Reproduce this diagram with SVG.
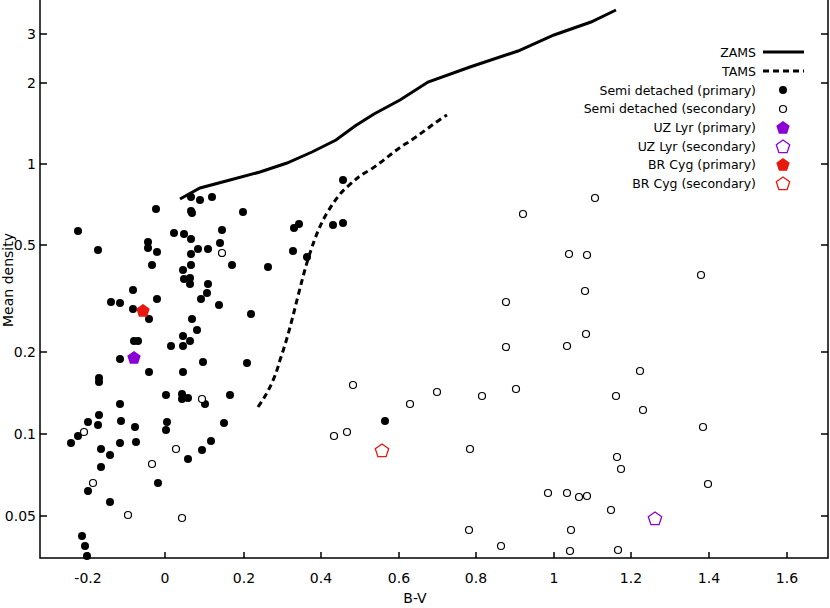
<svg xmlns="http://www.w3.org/2000/svg" width="830" height="608" viewBox="0 0 830 608">
<style>
text{font-family:"DejaVu Sans","Liberation Sans",sans-serif;font-size:12.5px;fill:#000}
.t{font-size:14px}
.f{fill:#000}
.o{fill:#fff;stroke:#000;stroke-width:1.2}
.ax{stroke:#000;stroke-width:1.5;fill:none}
</style>
<defs>
<circle id="f" r="4" class="f"/>
<circle id="o" r="3.5" class="o"/>
<polygon id="pg" points="0,-7 6.7,-2.2 4.1,5.7 -4.1,5.7 -6.7,-2.2"/>
</defs>
<rect width="830" height="608" fill="#fff"/>
<g id="axes" class="ax">
<path d="M40,0V558H828V0"/>
<path d="M88,558v-6M165,558v-6M244,558v-6M321,558v-6M399,558v-6M476,558v-6M554,558v-6M631,558v-6M709,558v-6M787,558v-6"/>
<path d="M40,34h7M40,83h7M40,164h7M40,245h7M40,352h7M40,434h7M40,516h7M828,34h-7M828,83h-7M828,164h-7M828,245h-7M828,352h-7M828,434h-7M828,516h-7"/>
</g>
<g id="ticklabels">
<text class="t" x="88" y="583" text-anchor="middle">-0.2</text>
<text class="t" x="165" y="583" text-anchor="middle">0</text>
<text class="t" x="244" y="583" text-anchor="middle">0.2</text>
<text class="t" x="321" y="583" text-anchor="middle">0.4</text>
<text class="t" x="399" y="583" text-anchor="middle">0.6</text>
<text class="t" x="476" y="583" text-anchor="middle">0.8</text>
<text class="t" x="554" y="583" text-anchor="middle">1</text>
<text class="t" x="631" y="583" text-anchor="middle">1.2</text>
<text class="t" x="709" y="583" text-anchor="middle">1.4</text>
<text class="t" x="787" y="583" text-anchor="middle">1.6</text>
<text class="t" x="36" y="39" text-anchor="end">3</text>
<text class="t" x="36" y="88" text-anchor="end">2</text>
<text class="t" x="36" y="169" text-anchor="end">1</text>
<text class="t" x="36" y="250" text-anchor="end">0.5</text>
<text class="t" x="36" y="357" text-anchor="end">0.2</text>
<text class="t" x="36" y="439" text-anchor="end">0.1</text>
<text class="t" x="36" y="521" text-anchor="end">0.05</text>
<text class="t" x="415" y="603" text-anchor="middle">B-V</text>
<text class="t" transform="translate(13,280) rotate(-90)" text-anchor="middle">Mean density</text>
</g>
<g id="connectors">
<path id="zams" d="M180,199 L200,188 L230,180 L260,172 L287,163 L312,152 L336,140 L355,126 L374,114 L400,100 L428,82 L470,67 L518,51 L554,35 L591,22 L616,10" fill="none" stroke="#000" stroke-width="3"/>
<path id="tams" d="M258,407 C270,390 276,375 280,360 C287,340 292,320 297,300 C302,280 306,265 310,253 C316,235 320,225 327,213 C335,200 340,193 347,187 C355,180 360,175 370,170 C385,160 395,150 407,143 C420,135 435,122 447,115" fill="none" stroke="#000" stroke-width="3" stroke-dasharray="6,4"/>
</g>
<g id="primary">
<use href="#f" x="78" y="231"/><use href="#f" x="98" y="250"/><use href="#f" x="156" y="209"/><use href="#f" x="148" y="242"/><use href="#f" x="148" y="248"/><use href="#f" x="157" y="252"/><use href="#f" x="152" y="265"/><use href="#f" x="133" y="290"/><use href="#f" x="111" y="302"/><use href="#f" x="120" y="303"/><use href="#f" x="157" y="299"/><use href="#f" x="133" y="309"/><use href="#f" x="149" y="319"/><use href="#f" x="134" y="341"/><use href="#f" x="138" y="341"/><use href="#f" x="120" y="359"/><use href="#f" x="174" y="233"/><use href="#f" x="184" y="234"/><use href="#f" x="191" y="239"/><use href="#f" x="191" y="197"/><use href="#f" x="200" y="200"/><use href="#f" x="212" y="197"/><use href="#f" x="191" y="211"/><use href="#f" x="192" y="213"/><use href="#f" x="243" y="212"/><use href="#f" x="222" y="230"/><use href="#f" x="220" y="243"/><use href="#f" x="198" y="249"/><use href="#f" x="208" y="249"/><use href="#f" x="191" y="254"/><use href="#f" x="191" y="265"/><use href="#f" x="183" y="270"/><use href="#f" x="232" y="265"/><use href="#f" x="268" y="267"/><use href="#f" x="184" y="279"/><use href="#f" x="190" y="278"/><use href="#f" x="190" y="284"/><use href="#f" x="208" y="284"/><use href="#f" x="207" y="293"/><use href="#f" x="201" y="299"/><use href="#f" x="219" y="305"/><use href="#f" x="251" y="314"/><use href="#f" x="192" y="319"/><use href="#f" x="197" y="330"/><use href="#f" x="183" y="336"/><use href="#f" x="190" y="341"/><use href="#f" x="171" y="346"/><use href="#f" x="183" y="346"/><use href="#f" x="203" y="362"/><use href="#f" x="247" y="363"/>
<use href="#f" x="99" y="378"/><use href="#f" x="99" y="382"/><use href="#f" x="149" y="372"/><use href="#f" x="183" y="372"/><use href="#f" x="166" y="395"/><use href="#f" x="182" y="394"/><use href="#f" x="182" y="399"/><use href="#f" x="188" y="398"/><use href="#f" x="205" y="404"/><use href="#f" x="230" y="395"/><use href="#f" x="120" y="404"/><use href="#f" x="99" y="415"/><use href="#f" x="88" y="422"/><use href="#f" x="98" y="425"/><use href="#f" x="121" y="421"/><use href="#f" x="135" y="427"/><use href="#f" x="167" y="422"/><use href="#f" x="166" y="430"/><use href="#f" x="78" y="436"/><use href="#f" x="71" y="443"/><use href="#f" x="120" y="443"/><use href="#f" x="136" y="442"/><use href="#f" x="101" y="449"/><use href="#f" x="110" y="455"/><use href="#f" x="101" y="467"/><use href="#f" x="202" y="450"/><use href="#f" x="188" y="459"/><use href="#f" x="211" y="441"/><use href="#f" x="224" y="423"/><use href="#f" x="158" y="483"/><use href="#f" x="88" y="491"/><use href="#f" x="110" y="502"/><use href="#f" x="82" y="536"/><use href="#f" x="85" y="546"/><use href="#f" x="87" y="556"/>
<use href="#f" x="294" y="228"/><use href="#f" x="299" y="224"/><use href="#f" x="293" y="251"/><use href="#f" x="307" y="257"/><use href="#f" x="333" y="225"/><use href="#f" x="343" y="223"/><use href="#f" x="343" y="180"/><use href="#f" x="385" y="421"/>
</g>
<g id="secondary">
<use href="#o" x="222" y="253"/><use href="#o" x="202" y="399"/><use href="#o" x="84" y="432"/><use href="#o" x="176" y="449"/><use href="#o" x="152" y="464"/><use href="#o" x="93" y="483"/><use href="#o" x="128" y="515"/><use href="#o" x="182" y="518"/>
<use href="#o" x="353" y="385"/><use href="#o" x="410" y="404"/><use href="#o" x="437" y="392"/><use href="#o" x="334" y="436"/><use href="#o" x="347" y="432"/>
<use href="#o" x="523" y="214"/><use href="#o" x="595" y="198"/><use href="#o" x="569" y="254"/><use href="#o" x="587" y="255"/><use href="#o" x="701" y="275"/><use href="#o" x="585" y="291"/><use href="#o" x="506" y="302"/><use href="#o" x="567" y="346"/><use href="#o" x="506" y="347"/><use href="#o" x="586" y="334"/><use href="#o" x="640" y="371"/><use href="#o" x="516" y="389"/><use href="#o" x="482" y="396"/><use href="#o" x="643" y="410"/><use href="#o" x="616" y="396"/><use href="#o" x="703" y="427"/><use href="#o" x="470" y="449"/><use href="#o" x="617" y="457"/><use href="#o" x="621" y="469"/><use href="#o" x="708" y="484"/><use href="#o" x="548" y="493"/><use href="#o" x="567" y="493"/><use href="#o" x="579" y="497"/><use href="#o" x="587" y="496"/><use href="#o" x="611" y="510"/><use href="#o" x="469" y="530"/><use href="#o" x="571" y="530"/><use href="#o" x="501" y="546"/><use href="#o" x="570" y="551"/><use href="#o" x="618" y="550"/>
</g>
<g id="uzlyr">
<use href="#pg" x="134" y="358" fill="#8b00d6"/>
<use href="#pg" x="655" y="519" fill="#fff" stroke="#8b00d6" stroke-width="1.3"/>
</g>
<g id="brcyg">
<use href="#pg" x="143" y="311" fill="#e8180f"/>
<use href="#pg" x="382" y="451" fill="#fff" stroke="#e8180f" stroke-width="1.3"/>
</g>
<g id="legend">
<text x="756" y="57" text-anchor="end">ZAMS</text>
<path d="M763,52H804" stroke="#000" stroke-width="3"/>
<text x="756" y="76" text-anchor="end">TAMS</text>
<path d="M763,71H804" stroke="#000" stroke-width="3" stroke-dasharray="6,4"/>
<text x="756" y="95" text-anchor="end">Semi detached (primary)</text>
<use href="#f" x="783" y="90"/>
<text x="756" y="113" text-anchor="end">Semi detached (secondary)</text>
<use href="#o" x="783" y="109"/>
<text x="756" y="132" text-anchor="end">UZ Lyr (primary)</text>
<use href="#pg" x="783" y="128" fill="#8b00d6"/>
<text x="756" y="151" text-anchor="end">UZ Lyr (secondary)</text>
<use href="#pg" x="783" y="147" fill="#fff" stroke="#8b00d6" stroke-width="1.3"/>
<text x="756" y="169" text-anchor="end">BR Cyg (primary)</text>
<use href="#pg" x="783" y="165" fill="#e8180f"/>
<text x="756" y="188" text-anchor="end">BR Cyg (secondary)</text>
<use href="#pg" x="783" y="184" fill="#fff" stroke="#e8180f" stroke-width="1.3"/>
</g>
</svg>
